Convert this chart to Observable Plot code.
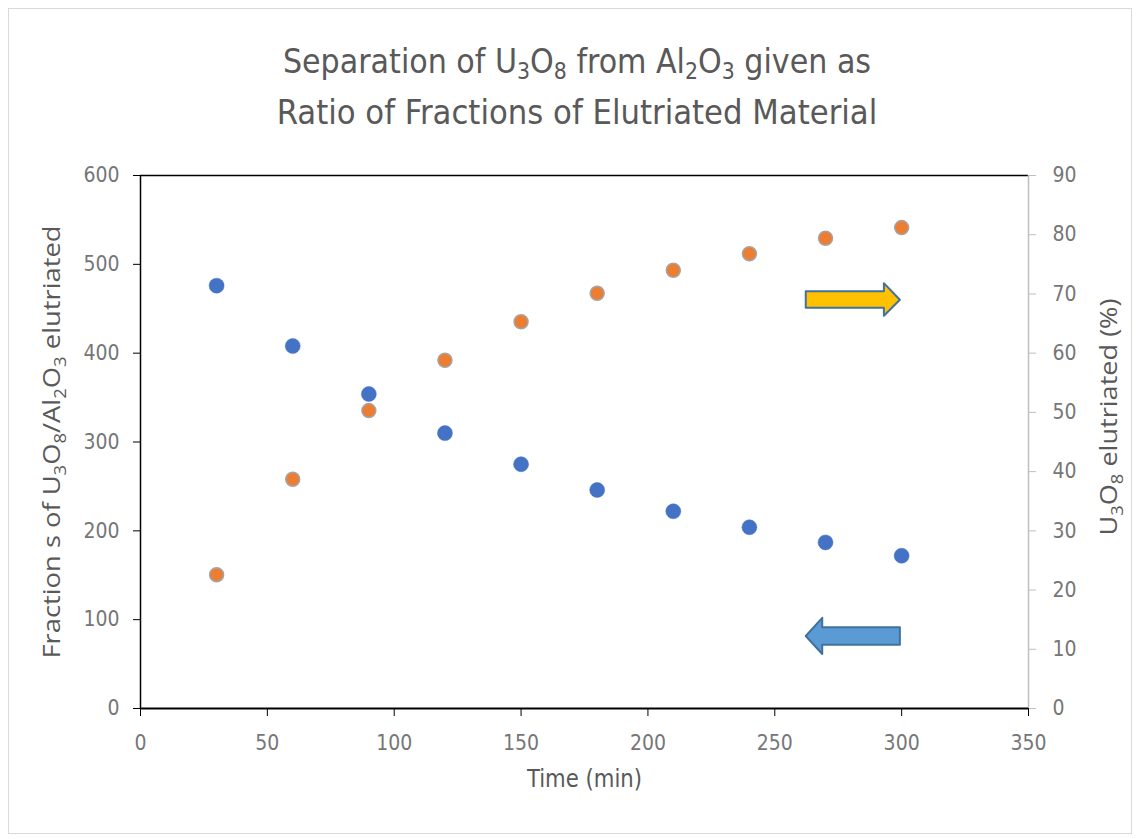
<!DOCTYPE html>
<html><head><meta charset="utf-8">
<script src="https://cdn.jsdelivr.net/npm/d3@7"></script>
<script src="https://cdn.jsdelivr.net/npm/@observablehq/plot@0.6"></script>
<style>
body{margin:0;background:#fff;width:1138px;height:839px;overflow:hidden;position:relative;}
#frame{position:absolute;left:8px;top:8px;width:1124px;height:826px;border:1px solid #d9d9d9;box-sizing:border-box;}
#title{position:absolute;left:8px;top:37px;width:1138px;text-align:center;font-family:"DejaVu Sans Condensed","Open Sans",sans-serif;font-size:33.5px;line-height:50px;color:#595959;}
#title sub{font-size:0.68em;vertical-align:-0.28em;line-height:0;}
#title .l2{font-size:34.2px;}
#chart{position:absolute;left:0;top:150px;}
</style>
</head><body>
<div id="frame"></div>
<div id="title">Separation of U<sub>3</sub>O<sub>8</sub> from Al<sub>2</sub>O<sub>3</sub> given as<br><span class="l2">Ratio of Fractions of Elutriated Material</span></div>
<div id="chart"></div>
<script>
// Data
const times = [30, 60, 90, 120, 150, 180, 210, 240, 270, 300];
const ratio = [476, 408, 354, 310, 275, 246, 222, 204, 187, 172];      // left axis
const elutriated = [22.6, 38.7, 50.3, 58.8, 65.3, 70.1, 74.0, 76.8, 79.4, 81.2]; // right axis, %
const xTicks = [0, 50, 100, 150, 200, 250, 300, 350];
const leftTicks = [0, 100, 200, 300, 400, 500, 600];
const rightTicks = [0, 10, 20, 30, 40, 50, 60, 70, 80, 90];
// annotation arrows (data units: x in min, y in left-axis units)
const arrowRightX = [262.2, 293.0, 293.0, 299.3, 293.0, 293.0, 262.2];
const arrowRightY = [469.8, 469.8, 478.8, 460.1, 442.1, 451.1, 451.1];
const arrowLeftX = [262.2, 268.7, 268.7, 299.3, 299.3, 268.7, 268.7];
const arrowLeftY = [81.6, 102.1, 91.5, 91.5, 71.9, 71.9, 61.4];

const leftMax = 600, rightMax = 90;
const toLeft = v => v * leftMax / rightMax;
const rows = times.map((t, i) => ({t, ratio: ratio[i], pct: elutriated[i]}));
const tickFont = '"DejaVu Sans Condensed",sans-serif';

const plot = Plot.plot({
  width: 1138,
  height: 680,
  marginLeft: 140,
  marginRight: 110,
  marginTop: 25,
  marginBottom: 122,
  style: {fontFamily: tickFont, fontSize: "21px", color: "#767676", background: "transparent"},
  x: {domain: [0, 350]},
  y: {domain: [0, leftMax]},
  marks: [
    Plot.ruleY([leftMax], {stroke: "#000", strokeWidth: 1.5}),
    Plot.ruleX([350], {stroke: "#bfbfbf", strokeWidth: 1.5}),
    Plot.axisX({ticks: xTicks, tickSize: 8, tickPadding: 19, label: "Time (min)", labelAnchor: "center", labelArrow: "none", labelOffset: 78}),
    Plot.axisY({anchor: "left", ticks: leftTicks, tickSize: 7, tickPadding: 14, label: "Fraction s of U3O8/Al2O3 elutriated", labelAnchor: "center", labelArrow: "none", labelOffset: 98}),
    Plot.axisY({anchor: "right", ticks: rightTicks.map(toLeft), tickFormat: v => Math.round(v * rightMax / leftMax), tickSize: 7, tickPadding: 17, label: "U3O8 elutriated (%)", labelAnchor: "center", labelArrow: "none", labelOffset: 88}),
    Plot.ruleX([0], {stroke: "#000", strokeWidth: 1.5}),
    Plot.ruleY([0], {stroke: "#000", strokeWidth: 2}),
    Plot.line(d3.range(arrowRightX.length), {x: i => arrowRightX[i], y: i => arrowRightY[i], curve: "linear-closed", fill: "#FFC000", stroke: "#41719C", strokeWidth: 2}),
    Plot.line(d3.range(arrowLeftX.length), {x: i => arrowLeftX[i], y: i => arrowLeftY[i], curve: "linear-closed", fill: "#5B9BD5", stroke: "#41719C", strokeWidth: 2}),
    Plot.dot(rows, {x: "t", y: "ratio", r: 7.5, fill: "#4472C4", stroke: "#4472C4", strokeWidth: 0.5}),
    Plot.dot(rows, {x: "t", y: d => toLeft(d.pct), r: 7, fill: "#ED7D31", stroke: "#A5A5A5", strokeWidth: 1.5})
  ]
});
document.getElementById("chart").appendChild(plot);
const svg = d3.select(plot);
svg.selectAll('g[aria-label="x-axis tick"] path, g[aria-label="y-axis tick"] path').attr("stroke", "#000");
const yTickGroups = svg.selectAll('g[aria-label="y-axis tick"]').nodes();
if (yTickGroups.length > 1) d3.select(yTickGroups[1]).selectAll("path").attr("stroke", "#bfbfbf");
// axis labels with subscripts
function sub(textEl, parts, size, length, shift) {
  const el = d3.select(textEl);
  el.text(null);
  el.style("font-family", '"Open Sans",sans-serif').style("font-size", size + "px").attr("fill", "#595959");
  const s = size * 0.26;
  const spans = parts.map(([txt, isSub]) => {
    const t = el.append("tspan").text(txt);
    if (isSub) t.attr("dy", s).style("font-size", (size * 0.68) + "px");
    return t;
  });
  spans.forEach((t, i) => { if (i > 0 && parts[i - 1][1] && !parts[i][1]) t.attr("dy", -s); });
  if (shift) el.attr("dx", shift);
  el.attr("textLength", length).attr("lengthAdjust", "spacingAndGlyphs");
}
svg.selectAll("text").each(function() {
  const t = this.textContent;
  if (t === "Fraction s of U3O8/Al2O3 elutriated") sub(this, [["Fraction s of U",0],["3",1],["O",0],["8",1],["/Al",0],["2",1],["O",0],["3",1],[" elutriated",0]], 24, 433, 0);
  else if (t === "U3O8 elutriated (%)") sub(this, [["U",0],["3",1],["O",0],["8",1],[" elutriated (%)",0]], 24, 237, 25);
  else if (t === "Time (min)") d3.select(this).style("font-size", "25px").attr("fill", "#595959").attr("textLength", 115).attr("lengthAdjust", "spacingAndGlyphs");
});
</script>
</body></html>
